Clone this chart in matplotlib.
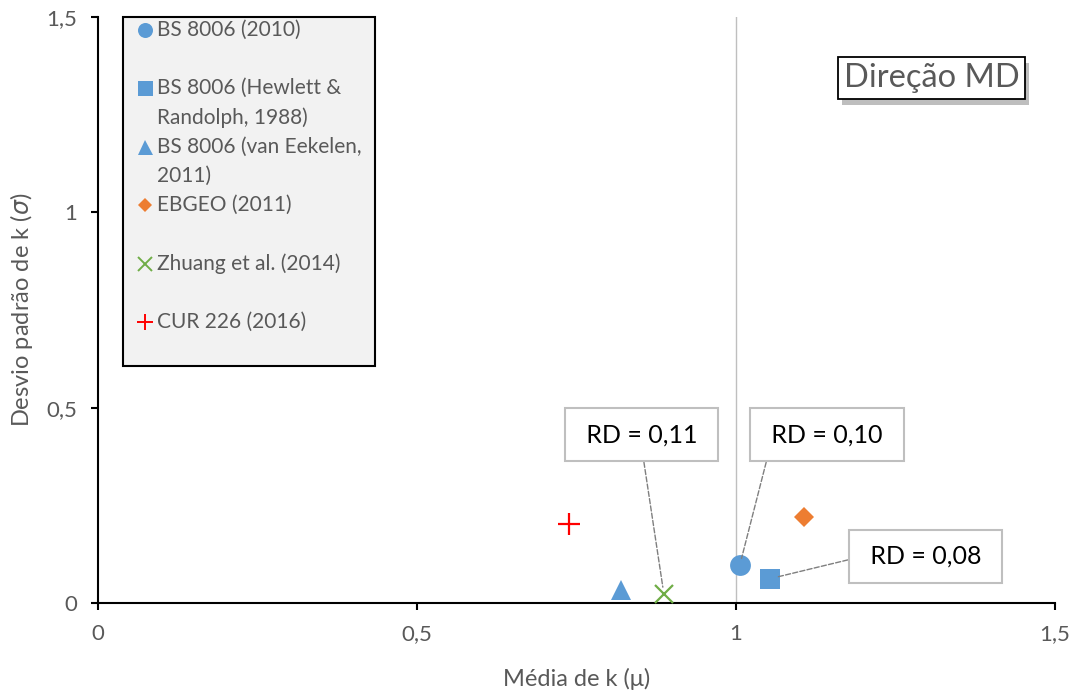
import matplotlib.pyplot as plt
import matplotlib.patheffects as pe
from matplotlib.patches import Rectangle

plt.rcParams['font.family'] = ['Lato', 'DejaVu Sans']

# Data
labels = ['BS 8006 (2010)', 'BS 8006 (Hewlett &\nRandolph, 1988)',
          'BS 8006 (van Eekelen,\n2011)', 'EBGEO (2011)',
          'Zhuang et al. (2014)', 'CUR 226 (2016)']
mu = [1.006, 1.053, 0.820, 1.107, 0.887, 0.738]
sigma = [0.097, 0.062, 0.034, 0.221, 0.023, 0.203]
markers = ['o', 's', '^', 'D', 'x', '+']
colors = ['#5b9bd5', '#5b9bd5', '#5b9bd5', '#ed7d31', '#70ad47', '#ff0000']
sizes = [15, 15, 15, 10.5, 13.5, 15.5]

# RD annotations: text, index of the point, box centre
rd_text = ['RD = 0,11', 'RD = 0,10', 'RD = 0,08']
rd_point = [4, 0, 1]
rd_box_x = [0.852, 1.143, 1.297]
rd_box_y = [0.43, 0.43, 0.12]
rd_relpos = [(0.5, 0), (0.04, 0), (0, 0.5)]

gray = '#595959'

fig = plt.figure(figsize=(10.73, 6.9), dpi=100)
ax = fig.add_axes([0.0913, 0.1261, 0.8919, 0.8493])

ax.axvline(1, color='#bfbfbf', lw=1, zorder=1)

for i in range(len(mu)):
    mew = 1.6 if markers[i] in ('x', '+') else 0
    ax.plot(mu[i], sigma[i], marker=markers[i], color=colors[i],
            markersize=sizes[i], markeredgewidth=mew, ls='none', zorder=3,
            clip_on=False)

for t, p, bx, by, rp in zip(rd_text, rd_point, rd_box_x, rd_box_y, rd_relpos):
    ax.annotate(' ' + t + ' ', xy=(mu[p], sigma[p]), xytext=(bx, by),
                ha='center', va='center', fontsize=18, color='black',
                bbox=dict(boxstyle='square,pad=0.6', fc='white',
                          ec='#bfbfbf', lw=1.5),
                arrowprops=dict(arrowstyle='-', ls='--', color='#7f7f7f',
                                lw=1, shrinkA=0, shrinkB=5, relpos=rp),
                zorder=4)

# Direção MD label box with shadow
title = ax.text(1.3065, 1.343, 'Direção MD', ha='center', va='center',
                fontsize=23.5, color=gray, zorder=5,
                bbox=dict(boxstyle='square,pad=0.18', fc='white', ec='black',
                          lw=1.3))
title.get_bbox_patch().set_path_effects([
    pe.SimplePatchShadow(offset=(3, -4), shadow_rgbFace='#7f7f7f', alpha=0.5),
    pe.Normal()])

ax.set_xlim(0, 1.5)
ax.set_ylim(0, 1.5)
ax.set_xticks([0, 0.5, 1, 1.5])
ax.set_yticks([0, 0.5, 1, 1.5])
ax.set_xticklabels(['0', '0,5', '1', '1,5'])
ax.set_yticklabels(['0', '0,5', '1', '1,5'])
ax.tick_params(labelsize=16, labelcolor=gray, color='black', length=5,
               width=1.5, pad=10)
for s in ['top', 'right']:
    ax.spines[s].set_visible(False)
for s in ['left', 'bottom']:
    ax.spines[s].set_linewidth(1.5)

ax.set_xlabel('Média de k (μ)', fontsize=17, color=gray, labelpad=17)
ax.set_ylabel(r'Desvio padrão de k ($\sigma$)', fontsize=17, color=gray,
              labelpad=8)

# Legend drawn by hand (every entry takes two lines)
lx0, ly0, lw_, lh_ = 0.026, 0.404, 0.263, 0.596
ax.add_patch(Rectangle((lx0, ly0), lw_, lh_, transform=ax.transAxes,
                       fc='#f2f2f2', ec='black', lw=1.5, zorder=2,
                       clip_on=False))
step = 0.0997
line_h = 0.0495
for i, lab in enumerate(labels):
    yy = 0.978 - i * step
    ax.plot(0.049, yy, marker=markers[i], color=colors[i],
            markersize=sizes[i] * 0.72,
            markeredgewidth=1.4 if markers[i] in ('x', '+') else 0,
            transform=ax.transAxes, clip_on=False, zorder=3)
    for k, part in enumerate(lab.split('\n')):
        ax.text(0.062, yy - k * line_h, part, transform=ax.transAxes,
                fontsize=15, color=gray, va='center', ha='left', zorder=3)

fig.savefig('out.png', dpi=100)
